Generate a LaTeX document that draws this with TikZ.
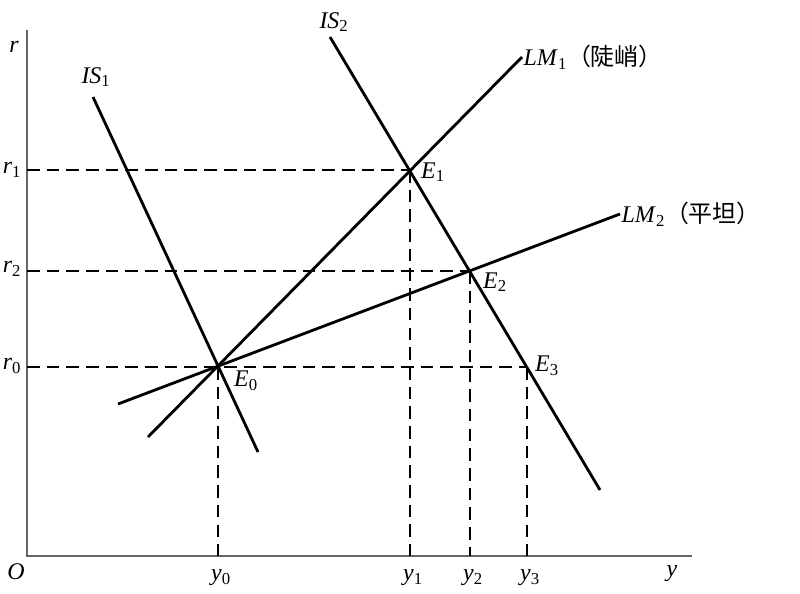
\documentclass[tikz,border=0pt]{standalone}
\usepackage{fontspec}
\setmainfont{Liberation Serif}
\newfontfamily\cjk{Noto Sans CJK SC}
\begin{document}
\begin{tikzpicture}[x=0.025cm,y=-0.025cm,
  curve/.style={line width=2pt},
  guide/.style={line width=1.3pt,dash pattern=on 9pt off 5pt},
  axis/.style={line width=1.4pt,black!60},
  lbl/.style={font=\fontsize{17pt}{19pt}\selectfont,inner sep=1pt}]
\useasboundingbox (0,0) rectangle (800,593);
% axes
\coordinate (O) at (27,556);
\coordinate (rtop) at (27,30);
\coordinate (yend) at (692,556);
\draw[axis] (rtop)--(O)--(yend);
%
\coordinate (E0) at (218,367);
\coordinate (E1) at (410,170);
\coordinate (E2) at (470,271);
\coordinate (E3) at (527,367);
%
\coordinate (IS1a) at (93,97);
\coordinate (IS1b) at (258,452);
\coordinate (IS2a) at (330,37);
\coordinate (IS2b) at (600,490);
\coordinate (LM1a) at (148,437);
\coordinate (LM1b) at (522,57);
\coordinate (LM2a) at (118,404);
\coordinate (LM2b) at (620,214);
% dashed guides
\draw[guide] (O|-E0)--(E3);
\draw[guide] (O|-E1)--(E1);
\draw[guide] (O|-E2)--(E2);
\draw[guide] (E0)--(E0|-O);
\draw[guide] (E1)--(E1|-O);
\draw[guide] (E2)--(E2|-O);
\draw[guide] (E3)--(E3|-O);
% curves
\draw[curve] (IS1a)--(IS1b);
\draw[curve] (IS2a)--(IS2b);
\draw[curve] (LM1a)--(LM1b);
\draw[curve] (LM2a)--(LM2b);
% labels
\node[lbl] (r) at (14,47) {\textit{r}};
\node[lbl] (O-lbl) at (16,572) {\textit{O}};
\node[lbl] (y) at (672,574) {\textit{y}};
\node[lbl] (r1) at (12,170) {\textit{r}\textsubscript{1}};
\node[lbl] (r2) at (12,269) {\textit{r}\textsubscript{2}};
\node[lbl] (r0) at (12,366) {\textit{r}\textsubscript{0}};
\node[lbl] (y0) at (221,578) {\textit{y}\textsubscript{0}};
\node[lbl] (y1) at (413,578) {\textit{y}\textsubscript{1}};
\node[lbl] (y2) at (473,578) {\textit{y}\textsubscript{2}};
\node[lbl] (y3) at (530,578) {\textit{y}\textsubscript{3}};
\node[lbl] (E0-lbl) at (246,381) {\textit{E}\textsubscript{0}};
\node[lbl] (E1-lbl) at (433,172) {\textit{E}\textsubscript{1}};
\node[lbl] (E2-lbl) at (495,282) {\textit{E}\textsubscript{2}};
\node[lbl] (E3-lbl) at (547,366) {\textit{E}\textsubscript{3}};
\node[lbl] (IS1-lbl) at (96,77) {\textit{IS}\textsubscript{1}};
\node[lbl] (IS2-lbl) at (334,22) {\textit{IS}\textsubscript{2}};
\node[lbl,anchor=west] (LM1-lbl) at (LM1b) {\textit{LM}\textsubscript{1}{\cjk （陡峭）}};
\node[lbl,anchor=west] (LM2-lbl) at (LM2b) {\textit{LM}\textsubscript{2}{\cjk （平坦）}};
\end{tikzpicture}
\end{document}
